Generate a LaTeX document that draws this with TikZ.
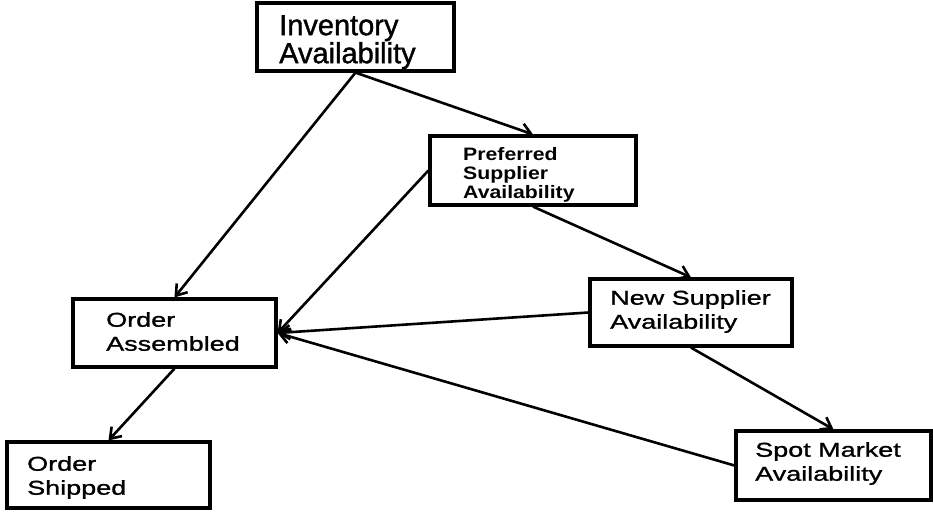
\documentclass[tikz,border=0pt]{standalone}
\usepackage{fontspec}
\setmainfont{Liberation Sans}
\newfontfamily\bigfont[FakeBold=1.2]{Liberation Sans}
\newfontfamily\widefont[FakeStretch=1.35,FakeBold=1.2]{Liberation Sans}
\newfontfamily\preffont[FakeStretch=1.18]{Liberation Sans}
\usetikzlibrary{arrows.meta}
\begin{document}
\begin{tikzpicture}[x=1pt,y=-1pt,
  box/.style={draw, line width=3.2pt, inner sep=0pt, rectangle},
  txt/.style={anchor=north west, inner sep=0pt, align=left},
  big/.style={font=\bigfont\fontsize{29}{26}\selectfont},
  reg/.style={font=\widefont\fontsize{20}{24}\selectfont},
  pref/.style={font=\preffont\bfseries\fontsize{18}{19}\selectfont},
  conn/.style={line width=2.6pt, -{Straight Barb[length=10pt,width=14pt]}}]
\fill[white] (0,0) rectangle (933,511);
\useasboundingbox (0,0) rectangle (933,511);
% boxes
\node[box, minimum width=197pt, minimum height=68pt] (inv) at (355.5,37) {};
\node[box, minimum width=206pt, minimum height=69pt] (prf) at (533,170.5) {};
\node[box, minimum width=202pt, minimum height=67pt] (new) at (691,312.5) {};
\node[box, minimum width=203pt, minimum height=68pt] (oa) at (174.5,333) {};
\node[box, minimum width=203pt, minimum height=66pt] (os) at (108.5,475) {};
\node[box, minimum width=195pt, minimum height=69pt] (spot) at (833.5,465.5) {};
% texts
\node[txt, big] (invt) at (279,15) {Inventory\\Availability};
\node[txt, pref] (prft) at (463,147) {Preferred\\Supplier\\Availability};
\node[txt, reg] (newt) at (610,290) {New Supplier\\Availability};
\node[txt, reg] (oat) at (106,312) {Order\\Assembled};
\node[txt, reg] (ost) at (27,456) {Order\\Shipped};
\node[txt, reg] (spott) at (755,442) {Spot Market\\Availability};
% connectors
\draw[conn] (inv.south) -- (oa.north);
\draw[conn] (inv.south) -- (prf.north);
\draw[conn] (prf.west) -- (oa.east);
\draw[conn] (prf.south) -- (new.north);
\draw[conn] (new.west) -- (oa.east);
\draw[conn] (new.south) -- (spot.north);
\draw[conn] (spot.west) -- (oa.east);
\draw[conn] (oa.south) -- (os.north);
\end{tikzpicture}
\end{document}
